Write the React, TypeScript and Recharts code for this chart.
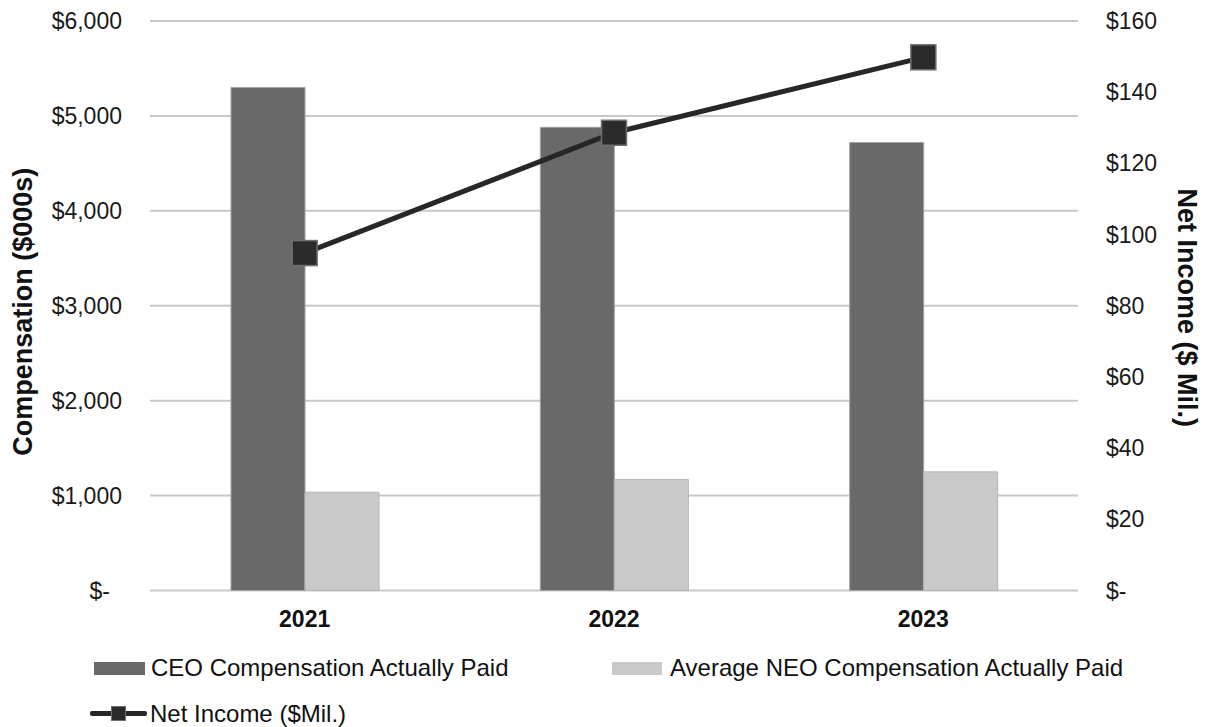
import React from "react";
import {
  ComposedChart, Bar, Line, XAxis, YAxis, CartesianGrid,
} from "recharts";

const years = ["2021", "2022", "2023"];
const ceoComp = [5300, 4880, 4720];
const neoComp = [1035, 1170, 1250];
const netIncome = [94.8, 128.6, 149.8];

const leftTicks = [0, 1000, 2000, 3000, 4000, 5000, 6000];
const rightTicks = [0, 20, 40, 60, 80, 100, 120, 140, 160];

const data = years.map((y, i) => ({
  year: y,
  ceo: ceoComp[i],
  neo: neoComp[i],
  net: netIncome[i],
}));

const FONT = "'Liberation Sans', Arial, sans-serif";
const CEO_COLOR = "#696969";
const NEO_COLOR = "#c9c9c9";
const LINE_COLOR = "#272727";

const LeftTick = ({ x, y, payload }: any) => {
  const v = payload.value as number;
  const label = v === 0 ? "$-" : "$" + v.toLocaleString("en-US");
  return (
    <text x={v === 0 ? x - 12 : x} y={y} dy={8} textAnchor="end" fontSize={23} fill="#1a1a1a" fontFamily={FONT}>
      {label}
    </text>
  );
};

const RightTick = ({ x, y, payload }: any) => {
  const v = payload.value as number;
  const label = v === 0 ? "$-" : "$" + v;
  return (
    <text x={x} y={y} dy={8} textAnchor="start" fontSize={23} fill="#1a1a1a" fontFamily={FONT}>
      {label}
    </text>
  );
};

const LeftTitle = ({ viewBox }: any) => {
  const cx = viewBox.x + 32;
  const cy = viewBox.y + viewBox.height / 2 + 6;
  return (
    <text x={cx} y={cy} transform={`rotate(-90 ${cx} ${cy})`} textAnchor="middle"
      fontSize={27} fontWeight={700} fill="#111" fontFamily={FONT}>
      Compensation ($000s)
    </text>
  );
};

const RightTitle = ({ viewBox }: any) => {
  const cx = viewBox.x + 100;
  const cy = viewBox.y + viewBox.height / 2 + 2;
  return (
    <text x={cx} y={cy} transform={`rotate(90 ${cx} ${cy})`} textAnchor="middle"
      fontSize={27} fontWeight={700} fill="#111" fontFamily={FONT}>
      Net Income ($ Mil.)
    </text>
  );
};

const SquareDot = ({ cx, cy }: any) => (
  <rect x={cx - 12.5} y={cy - 12.5} width={25} height={25} fill="#2b2b2b" stroke="#707070" strokeWidth={1.5} />
);

function LegendBlock() {
  const text: React.CSSProperties = { fontFamily: FONT, fontSize: 24, color: "#111", position: "absolute", whiteSpace: "nowrap", lineHeight: "28px" };
  return (
    <>
      <div style={{ position: "absolute", left: 94, top: 662, width: 51, height: 13, background: CEO_COLOR }} />
      <div style={{ ...text, left: 151, top: 654 }}>CEO Compensation Actually Paid</div>
      <div style={{ position: "absolute", left: 612, top: 662, width: 50, height: 13, background: NEO_COLOR }} />
      <div style={{ ...text, left: 670, top: 654 }}>Average NEO Compensation Actually Paid</div>
      <div style={{ position: "absolute", left: 90, top: 711, width: 57, height: 5, background: LINE_COLOR, borderRadius: 2 }} />
      <div style={{ position: "absolute", left: 111, top: 706, width: 13, height: 13, background: "#2b2b2b", border: "1.5px solid #707070" }} />
      <div style={{ ...text, left: 150, top: 700 }}>Net Income ($Mil.)</div>
    </>
  );
}

export default function App() {
  return (
    <div style={{ position: "absolute", left: 0, top: 0, width: 1208, height: 727, background: "#fff" }}>
      <ComposedChart
        width={1208}
        height={727}
        data={data}
        margin={{ top: 21, right: 0, bottom: 106.5, left: 0 }}
        barGap={0}
      >
        <CartesianGrid yAxisId="left" vertical={false} stroke="#c8c8c8" strokeWidth={2} />
        <XAxis
          dataKey="year"
          axisLine={false}
          tickLine={false}
          tickSize={0}
          tickMargin={20}
          tick={{ fontSize: 23, fontWeight: 700, fill: "#111", fontFamily: FONT }}
        />
        <YAxis
          yAxisId="left"
          orientation="left"
          width={150}
          domain={[0, 6000]}
          ticks={leftTicks}
          axisLine={false}
          tickLine={false}
          tickSize={0}
          tickMargin={28}
          tick={<LeftTick />}
          label={LeftTitle}
        />
        <YAxis
          yAxisId="right"
          orientation="right"
          width={130}
          domain={[0, 160]}
          ticks={rightTicks}
          axisLine={false}
          tickLine={false}
          tickSize={0}
          tickMargin={28}
          tick={<RightTick />}
          label={RightTitle}
        />
        <Bar yAxisId="left" dataKey="ceo" barSize={74} fill={CEO_COLOR} stroke="#a3a3a3" strokeWidth={1} isAnimationActive={false} />
        <Bar yAxisId="left" dataKey="neo" barSize={74} fill={NEO_COLOR} stroke="#b5b5b5" strokeWidth={1} isAnimationActive={false} />
        <Line
          yAxisId="right"
          dataKey="net"
          stroke={LINE_COLOR}
          strokeWidth={5}
          dot={<SquareDot />}
          activeDot={false}
          isAnimationActive={false}
        />
      </ComposedChart>
      <LegendBlock />
    </div>
  );
}
